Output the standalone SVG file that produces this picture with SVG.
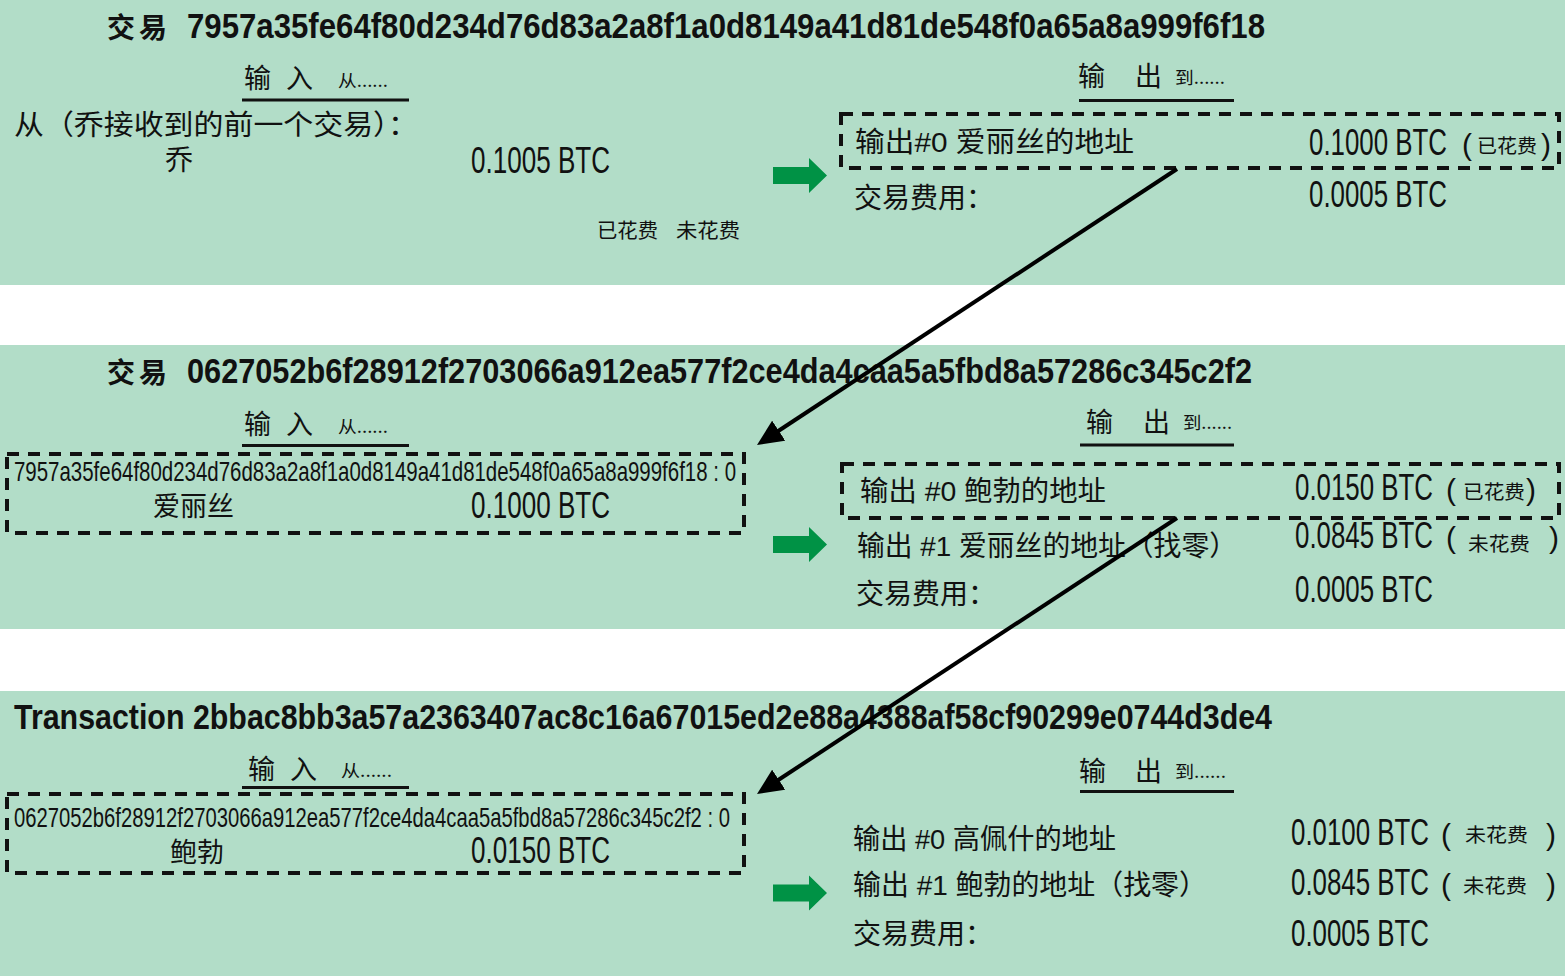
<svg xmlns="http://www.w3.org/2000/svg" width="1565" height="976" viewBox="0 0 1565 976">
<style>
.band{fill:#b2ddc8}
text{fill:#111;font-family:"Liberation Sans","Noto Sans CJK SC",sans-serif}
.cjk{font-family:"Noto Sans CJK SC","Liberation Sans",sans-serif}
.title{font-weight:bold;font-size:35px}
.tcjk{font-family:"Noto Sans CJK SC",sans-serif;font-weight:bold;font-size:28px}
.hdr{font-family:"Noto Sans CJK SC",sans-serif;font-size:27px}
.small{font-family:"Noto Sans CJK SC",sans-serif;font-size:17px}
.lbl{font-size:28px}
.amt{font-size:36px}
.par{font-size:30px}
.st{font-family:"Noto Sans CJK SC",sans-serif;font-size:19px}
.ul{stroke:#111;stroke-width:3}
.box{fill:none;stroke:#111;stroke-width:4;stroke-dasharray:12 9}
.garrow{fill:#009245}
.conn{stroke:#000;stroke-width:4;fill:none}
</style>
<defs>
<marker id="ah" viewBox="0 0 26 24" refX="6" refY="12" markerWidth="26" markerHeight="24" markerUnits="userSpaceOnUse" orient="auto">
<path d="M0,0 L26,12 L0,24 Z" fill="#000"/>
</marker>
<path id="ga" d="M0,-8.5 H36 V-17.5 L54,0 L36,17.5 V8.5 H0 Z"/>
</defs>

<rect class="band" x="0" y="0" width="1565" height="285"/>
<rect class="band" x="0" y="345" width="1565" height="284"/>
<rect class="band" x="0" y="691" width="1565" height="285"/>

<g id="tx1">
<text class="tcjk" x="107" y="38" textLength="60" lengthAdjust="spacing">交易</text>
<text class="title" x="187" y="38" textLength="1078" lengthAdjust="spacingAndGlyphs">7957a35fe64f80d234d76d83a2a8f1a0d8149a41d81de548f0a65a8a999f6f18</text>
<g id="tx1-in">
<text class="hdr" x="244" y="88" textLength="69" lengthAdjust="spacing">输入</text>
<text class="small" x="338" y="87" textLength="50" lengthAdjust="spacingAndGlyphs">从......</text>
<line class="ul" x1="242" y1="100" x2="409" y2="100"/>
<text class="cjk lbl" x="14" y="135" textLength="404" lengthAdjust="spacingAndGlyphs">从（乔接收到的前一个交易）：</text>
<text class="cjk lbl" x="165" y="170">乔</text>
<text class="amt" x="471" y="173" textLength="139" lengthAdjust="spacingAndGlyphs">0.1005 BTC</text>
<text class="cjk" x="597" y="238" font-size="20" textLength="61" lengthAdjust="spacingAndGlyphs">已花费</text>
<text class="cjk" x="676" y="238" font-size="20" textLength="64" lengthAdjust="spacingAndGlyphs">未花费</text>
</g>
<use href="#ga" class="garrow" x="773" y="175.5"/>
<g id="tx1-out">
<text class="hdr" x="1078" y="86" font-size="29" textLength="84" lengthAdjust="spacing">输出</text>
<text class="small" x="1175" y="84" textLength="50" lengthAdjust="spacingAndGlyphs">到......</text>
<line class="ul" x1="1079" y1="100.5" x2="1234" y2="100.5"/>
<g id="tx1-out0">
<rect class="box" x="841" y="114" width="718" height="54"/>
<text class="lbl" x="855" y="152" textLength="279" lengthAdjust="spacingAndGlyphs">输出#0 爱丽丝的地址</text>
<text class="amt" x="1309" y="155" textLength="138" lengthAdjust="spacingAndGlyphs">0.1000 BTC</text>
<text class="par" x="1462" y="155">(</text>
<text class="st" x="1477" y="153" textLength="60" lengthAdjust="spacingAndGlyphs">已花费</text>
<text class="par" x="1541" y="155">)</text>
</g>
<text class="cjk lbl" x="854" y="208">交易费用：</text>
<text class="amt" x="1309" y="207" textLength="138" lengthAdjust="spacingAndGlyphs">0.0005 BTC</text>
</g>
</g>

<g id="tx2">
<text class="tcjk" x="107" y="383" textLength="60" lengthAdjust="spacing">交易</text>
<text class="title" x="187" y="383" textLength="1065" lengthAdjust="spacingAndGlyphs">0627052b6f28912f2703066a912ea577f2ce4da4caa5a5fbd8a57286c345c2f2</text>
<g id="tx2-in">
<text class="hdr" x="244" y="434" textLength="69" lengthAdjust="spacing">输入</text>
<text class="small" x="338" y="433" textLength="50" lengthAdjust="spacingAndGlyphs">从......</text>
<line class="ul" x1="242" y1="445.5" x2="409" y2="445.5"/>
<rect class="box" x="7" y="454" width="737" height="79"/>
<text x="14" y="481" font-size="28" textLength="722" lengthAdjust="spacingAndGlyphs">7957a35fe64f80d234d76d83a2a8f1a0d8149a41d81de548f0a65a8a999f6f18 : 0</text>
<text class="cjk" x="153" y="516" font-size="27">爱丽丝</text>
<text class="amt" x="471" y="518" textLength="139" lengthAdjust="spacingAndGlyphs">0.1000 BTC</text>
</g>
<use href="#ga" class="garrow" x="773" y="544.5"/>
<g id="tx2-out">
<text class="hdr" x="1086" y="432" font-size="29" textLength="84" lengthAdjust="spacing">输出</text>
<text class="small" x="1183" y="429" textLength="49" lengthAdjust="spacingAndGlyphs">到......</text>
<line class="ul" x1="1080" y1="445" x2="1234" y2="445"/>
<g id="tx2-out0">
<rect class="box" x="842" y="464" width="717" height="54"/>
<text class="lbl" x="860" y="501" textLength="246" lengthAdjust="spacingAndGlyphs">输出 #0  鲍勃的地址</text>
<text class="amt" x="1295" y="500" textLength="138" lengthAdjust="spacingAndGlyphs">0.0150 BTC</text>
<text class="par" x="1446" y="500">(</text>
<text class="st" x="1463" y="499" font-size="20" textLength="62" lengthAdjust="spacingAndGlyphs">已花费</text>
<text class="par" x="1526" y="500">)</text>
</g>
<g id="tx2-out1">
<text class="lbl" x="857" y="556" textLength="380" lengthAdjust="spacingAndGlyphs">输出 #1 爱丽丝的地址（找零）</text>
<text class="amt" x="1295" y="548" textLength="138" lengthAdjust="spacingAndGlyphs">0.0845 BTC</text>
<text class="par" x="1446" y="548">(</text>
<text class="st" x="1468" y="551" font-size="20" textLength="62" lengthAdjust="spacingAndGlyphs">未花费</text>
<text class="par" x="1549" y="548">)</text>
</g>
<text class="cjk lbl" x="856" y="604">交易费用：</text>
<text class="amt" x="1295" y="602" textLength="138" lengthAdjust="spacingAndGlyphs">0.0005 BTC</text>
</g>
</g>

<g id="tx3">
<text class="title" x="14" y="729" textLength="1258" lengthAdjust="spacingAndGlyphs">Transaction 2bbac8bb3a57a2363407ac8c16a67015ed2e88a4388af58cf90299e0744d3de4</text>
<g id="tx3-in">
<text class="hdr" x="248" y="779" textLength="69" lengthAdjust="spacing">输入</text>
<text class="small" x="341" y="777" textLength="51" lengthAdjust="spacingAndGlyphs">从......</text>
<line class="ul" x1="242" y1="787.5" x2="409" y2="787.5"/>
<rect class="box" x="7" y="794" width="737" height="79"/>
<text x="14" y="827" font-size="28" textLength="716" lengthAdjust="spacingAndGlyphs">0627052b6f28912f2703066a912ea577f2ce4da4caa5a5fbd8a57286c345c2f2 : 0</text>
<text class="cjk" x="170" y="862" font-size="27">鲍勃</text>
<text class="amt" x="471" y="863" textLength="139" lengthAdjust="spacingAndGlyphs">0.0150 BTC</text>
</g>
<use href="#ga" class="garrow" x="773" y="893"/>
<g id="tx3-out">
<text class="hdr" x="1079" y="781" font-size="29" textLength="83" lengthAdjust="spacing">输出</text>
<text class="small" x="1175" y="778" textLength="51" lengthAdjust="spacingAndGlyphs">到......</text>
<line class="ul" x1="1080" y1="791.5" x2="1234" y2="791.5"/>
<g id="tx3-out0">
<text class="lbl" x="853" y="849" textLength="263" lengthAdjust="spacingAndGlyphs">输出 #0 高佩什的地址</text>
<text class="amt" x="1291" y="845" textLength="138" lengthAdjust="spacingAndGlyphs">0.0100 BTC</text>
<text class="par" x="1441" y="845">(</text>
<text class="st" x="1465" y="842" font-size="20" textLength="63" lengthAdjust="spacingAndGlyphs">未花费</text>
<text class="par" x="1546" y="845">)</text>
</g>
<g id="tx3-out1">
<text class="lbl" x="853" y="895" textLength="354" lengthAdjust="spacingAndGlyphs">输出 #1 鲍勃的地址（找零）</text>
<text class="amt" x="1291" y="895" textLength="138" lengthAdjust="spacingAndGlyphs">0.0845 BTC</text>
<text class="par" x="1441" y="895">(</text>
<text class="st" x="1463" y="893" font-size="20" textLength="64" lengthAdjust="spacingAndGlyphs">未花费</text>
<text class="par" x="1546" y="895">)</text>
</g>
<text class="cjk lbl" x="853" y="944">交易费用：</text>
<text class="amt" x="1291" y="946" textLength="138" lengthAdjust="spacingAndGlyphs">0.0005 BTC</text>
</g>
</g>

<g id="connectors">
<line class="conn" x1="1177" y1="169" x2="773.7" y2="434" marker-end="url(#ah)"/>
<line class="conn" x1="1177" y1="518" x2="773.7" y2="783" marker-end="url(#ah)"/>
</g>
</svg>
